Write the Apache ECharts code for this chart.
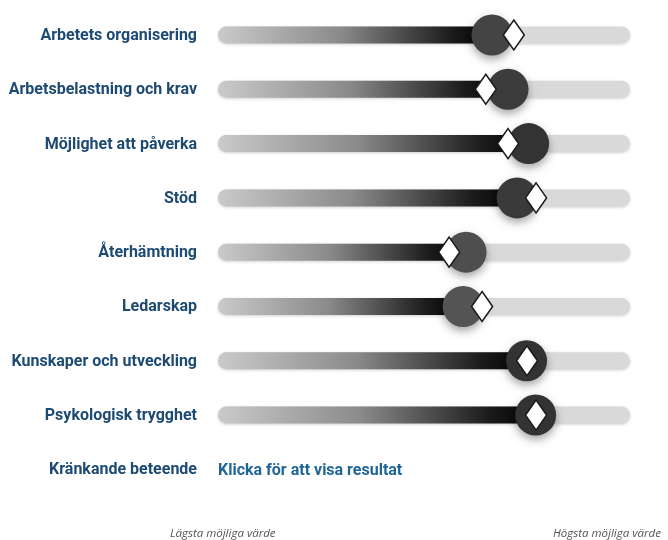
<!DOCTYPE html>
<html>
<head>
<meta charset="utf-8">
<script src="https://cdn.jsdelivr.net/npm/echarts@6/dist/echarts.min.js"></script>
<style>
  html, body { margin: 0; padding: 0; background: #fff; }
  #chart { width: 668px; height: 540px; }
</style>
</head>
<body>
<div id="chart"></div>
<script>
// rader (sista raden har inget resultat, bara länk)
var categories = ['Arbetets organisering', 'Arbetsbelastning och krav', 'Möjlighet att påverka', 'Stöd',
    'Återhämtning', 'Ledarskap', 'Kunskaper och utveckling', 'Psykologisk trygghet', 'Kränkande beteende'];
// resultat (cirkel) och jämförelsevärde (romb), skala 0-100
var results = [66.5, 70.4, 75.4, 72.6, 60.2, 59.5, 74.9, 77.1];
var references = [71.8, 65.0, 70.4, 77.2, 56.1, 64.1, 75.0, 77.2];
var scaleLabels = ['Lägsta möjliga värde', 'Högsta möjliga värde'];
var linkText = 'Klicka för att visa resultat';

var circleColors = ['#444444', '#3c3c3c', '#333333', '#3a3a3a', '#4e4e4e', '#545454', '#333333', '#333333'];

var seriesData = results.map(function (v, i) { return [v, i, references[i]]; });

function renderItem(params, api) {
    var idx = api.value(1);
    var c = api.coord([api.value(0), idx]);
    var left = api.coord([0, idx])[0];
    var right = api.coord([100, idx])[0];
    var d = api.coord([api.value(2), idx]);
    var h = 17, cy = c[1];
    return {
        type: 'group',
        children: [
            {   // spår
                type: 'rect',
                shape: { x: left, y: cy - h / 2, width: right - left, height: h, r: h / 2 },
                style: { fill: '#d9d9d9', shadowBlur: 3, shadowOffsetY: 1, shadowColor: 'rgba(0,0,0,0.18)' }
            },
            {   // gradient fram till resultatet
                type: 'rect',
                shape: { x: left, y: cy - h / 2, width: c[0] - left, height: h, r: [h / 2, 0, 0, h / 2] },
                style: {
                    fill: new echarts.graphic.LinearGradient(0, 0, 1, 0, [
                        { offset: 0, color: '#cacaca' },
                        { offset: 0.45, color: '#8a8a8a' },
                        { offset: 0.85, color: '#1c1c1c' },
                        { offset: 1, color: '#000000' }
                    ])
                }
            },
            {
                type: 'circle',
                shape: { cx: c[0], cy: cy, r: 20.5 },
                style: { fill: circleColors[idx], shadowBlur: 8, shadowOffsetY: 4, shadowColor: 'rgba(0,0,0,0.35)' }
            },
            {
                type: 'polygon',
                shape: { points: [[d[0], cy - 15], [d[0] + 10.5, cy], [d[0], cy + 15], [d[0] - 10.5, cy]] },
                style: { fill: '#ffffff', stroke: '#1a1a1a', lineWidth: 1.5 }
            }
        ]
    };
}

var chart = echarts.init(document.getElementById('chart'));
chart.setOption({
    animation: false,
    grid: { left: 218, right: 38, top: 7.85, bottom: 43.5 },
    xAxis: {
        type: 'value', min: 0, max: 100,
        show: false
    },
    yAxis: {
        type: 'category', inverse: true, data: categories,
        axisLine: { show: false }, axisTick: { show: false }, splitLine: { show: false },
        axisLabel: { fontFamily: 'Roboto', fontWeight: 'bold', fontSize: 16, color: '#1d4a72', margin: 21,
                     verticalAlign: 'top', padding: [-7, 0, 0, 0] }
    },
    series: [{
        type: 'custom',
        renderItem: renderItem,
        encode: { x: 0, y: 1 },
        data: seriesData,
        clip: false
    }],
    graphic: [
        { type: 'text', left: 218, top: 463,
          style: { text: linkText, font: 'bold 16px Roboto', fill: '#1f6596' } },
        { type: 'text', left: 170, top: 528,
          style: { text: scaleLabels[0], font: 'italic 11.5px "Open Sans"', fill: '#555555' } },
        { type: 'text', left: 553, top: 528,
          style: { text: scaleLabels[1], font: 'italic 11.5px "Open Sans"', fill: '#555555' } }
    ]
});
</script>
</body>
</html>
